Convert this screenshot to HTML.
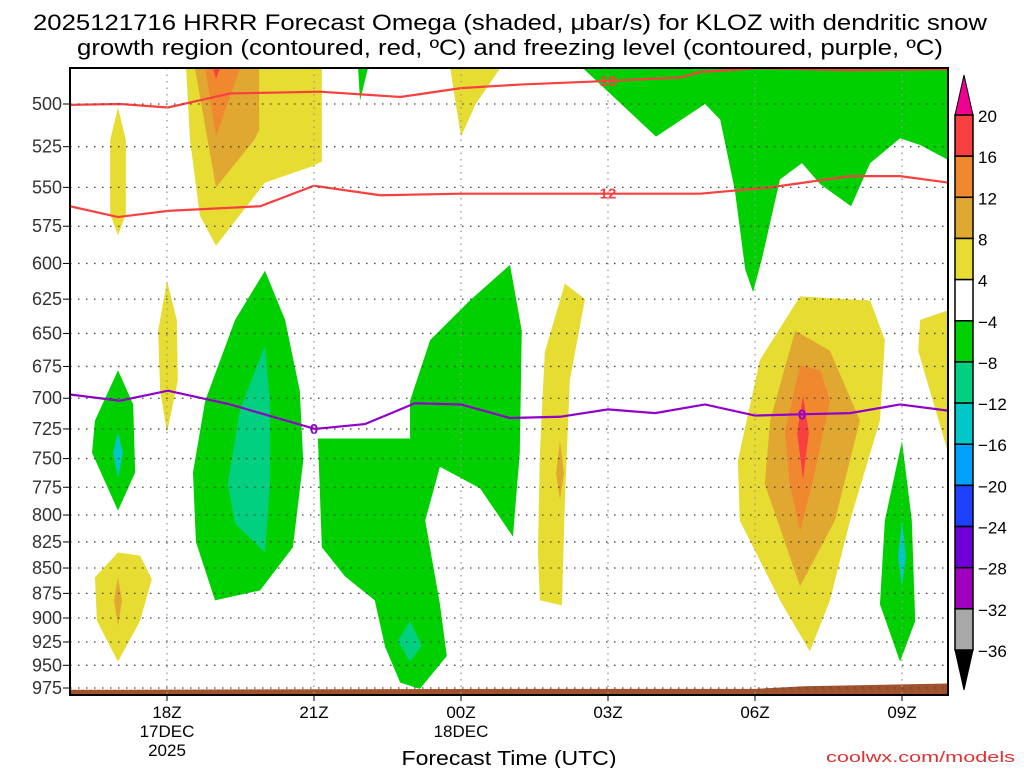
<!DOCTYPE html>
<html><head><meta charset="utf-8"><style>
body{margin:0;background:#fff;width:1024px;height:768px;overflow:hidden}
svg text{font-family:"Liberation Sans",sans-serif}
</style></head><body>
<svg id="c" width="1024" height="768">
<text x="510" y="30" font-size="22" text-anchor="middle" textLength="954" lengthAdjust="spacingAndGlyphs">2025121716 HRRR Forecast Omega (shaded, μbar/s) for KLOZ with dendritic snow</text>
<text x="510" y="55" font-size="22" text-anchor="middle" textLength="866" lengthAdjust="spacingAndGlyphs">growth region (contoured, red, ºC) and freezing level (contoured, purple, ºC)</text>
<g id="plot"></g>
<text x="509" y="765" font-size="20" text-anchor="middle" textLength="215" lengthAdjust="spacingAndGlyphs">Forecast Time (UTC)</text>
<text x="1015" y="762" font-size="15" fill="#e03030" text-anchor="end" textLength="189" lengthAdjust="spacingAndGlyphs">coolwx.com/models</text>
</svg>
<script>
const pTicks=[500,525,550,575,600,625,650,675,700,725,750,775,800,825,850,875,900,925,950,975];
const tTicks=[18,21,24,27,30,33];
const tLabels=["18Z","21Z","00Z","03Z","06Z","09Z"];
const tSub=["17DEC","","18DEC","","",""];
const cbLevels=[20,16,12,8,4,-4,-8,-12,-16,-20,-24,-28,-32,-36];
const cbColors=["#f84040","#f08830","#e0a830","#e6dc32","#ffffff","#00d000","#00d080","#00c8c8","#00a0ff","#2040ff","#7000d8","#a000c0","#a8a8a8"];
const shapes=[
 ["#e6dc32",[[18.39,480],[18.47,521],[18.67,568],[19.0,588],[20.0,547],[20.96,537],[21.16,534],[21.16,480]]],
 ["#e0a830",[[18.57,480],[19.0,550],[19.78,521],[19.88,515],[19.88,480]]],
 ["#f08830",[[18.78,480],[19.0,519],[19.49,480]]],
 ["#f84040",[[18.94,480],[19.0,486],[19.08,480]]],
 ["#e6dc32",[[17.0,502],[16.84,521],[16.84,567],[17.0,581],[17.16,567],[17.16,521]]],
 ["#00d000",[[21.9,480],[21.94,498],[22.1,480]]],
 ["#e6dc32",[[23.78,480],[24.0,519],[24.3,500],[24.8,480]]],
 ["#00d000",[[26.49,480],[27.98,519],[28.98,500],[29.29,509],[29.59,552],[29.8,604],[29.96,620],[30.14,597],[30.51,545],[30.96,535],[31.33,548],[31.96,562],[32.35,535],[32.96,520],[33.37,524],[33.94,533],[33.94,480]]],
 ["#e6dc32",[[18.0,612],[17.82,648],[17.86,694],[18.0,728],[18.22,686],[18.2,640]]],
 ["#00d000",[[17.0,678],[16.53,718],[16.47,745],[17.0,796],[17.35,762],[17.31,705]]],
 ["#00c8c8",[[17.0,728],[16.9,745],[17.0,767],[17.1,745]]],
 ["#00d000",[[20.0,605],[19.39,640],[18.78,702],[18.53,762],[18.59,825],[18.98,882],[19.9,872],[20.57,830],[20.78,752],[20.71,694],[20.41,640]]],
 ["#00d080",[[20.0,659],[19.49,709],[19.24,772],[19.39,808],[20.0,835],[20.1,772],[20.1,702]]],
 ["#00d000",[[25.06,820],[24.39,776],[23.57,757],[23.27,805],[23.57,886],[23.71,940],[23.16,976],[22.76,969],[22.45,930],[22.24,882],[21.63,858],[21.16,830],[21.08,733],[22.96,733],[22.96,702],[23.37,655],[24.18,626],[25.0,601],[25.24,648],[25.2,745]]],
 ["#00d080",[[22.96,903],[22.71,924],[22.96,946],[23.2,929]]],
 ["#e6dc32",[[26.12,614],[25.71,664],[25.61,745],[25.57,835],[25.61,882],[26.06,887],[26.12,787],[26.22,686],[26.53,625]]],
 ["#e0a830",[[26.02,735],[25.94,763],[26.02,786],[26.1,763]]],
 ["#e6dc32",[[30.92,623],[30.1,670],[29.65,752],[29.69,805],[30.51,882],[31.12,935],[31.53,882],[31.94,805],[32.55,718],[32.65,655],[32.35,626]]],
 ["#e0a830",[[30.82,648],[30.31,718],[30.2,772],[30.92,868],[31.63,805],[32.14,718],[31.53,663]]],
 ["#f08830",[[30.92,674],[30.61,728],[30.71,772],[30.92,815],[31.22,762],[31.53,702],[31.33,678]]],
 ["#f84040",[[30.98,698],[30.86,728],[30.98,768],[31.1,728]]],
 ["#00d000",[[33.0,735],[32.65,805],[32.55,886],[32.96,946],[33.27,903],[33.2,805]]],
 ["#00c8c8",[[33.0,805],[32.92,839],[33.0,868],[33.08,839]]],
 ["#e6dc32",[[33.94,633],[33.37,640],[33.33,663],[33.94,745]]],
 ["#e6dc32",[[17.0,835],[16.53,859],[16.57,903],[17.0,946],[17.45,903],[17.69,861],[17.45,838]]],
 ["#e0a830",[[17.0,859],[16.92,882],[17.0,908],[17.08,882]]],
 ["#a0522d",[[16,977],[25,976],[30,976],[31,973],[33.94,970],[33.94,990],[16,990]]]
];
const red18T=[16.02,17.04,18.02,19.29,21.12,22.76,24,25.2,27,28.49,28.88,30.1,31.94,33.94];
const red18P=[500.5,500,502,494,493,496,491,489,487,485,482,480,481,480.5];
const red12T=[16.02,17.0,18.02,19.9,21.0,22.35,24,27,28.88,30.31,31.94,32.96,33.94];
const red12P=[562,569,565,562,549,555,554,554,554,550,543,543,547];
const frzT=[16.02,17.04,18.02,19.29,21.02,22.04,23.06,24,25,26.02,27,27.96,28.98,30,30.92,31.94,32.96,33.94];
const frzP=[697,702,694,705,725,721,704,705,716,715,709,712,705,714,713,712,705,710];
const L=70,R=948,T=68,B=695;
const xs=t=>167+(t-18)*49;
const ys=p=>104+874.5*Math.log(p/500);
const NS="http://www.w3.org/2000/svg";
const g=document.getElementById('plot');
function mk(tag,attrs,parent){const e=document.createElementNS(NS,tag);for(const k in attrs)e.setAttribute(k,attrs[k]);(parent||g).appendChild(e);return e;}
const defs=mk('defs',{});const cp=mk('clipPath',{id:'clip'},defs);mk('rect',{x:L,y:T,width:R-L,height:B-T},cp);
const area=mk('g',{'clip-path':'url(#clip)'});


shapes.forEach((s,i)=>{const e=mk('polygon',{points:s[1].map(q=>xs(q[0])+','+ys(q[1])).join(' '),fill:s[0]},area);

});
pTicks.forEach(p=>{const y=ys(p);
const l=mk('line',{x1:L,x2:R,y1:y,y2:y,stroke:'#444','stroke-dasharray':'1.5 6.5','stroke-width':1.3});


const tk=mk('line',{x1:L-7,x2:L,y1:y,y2:y,stroke:'#000'});


const t=mk('text',{x:L-8,y:y+6,'font-size':18,'text-anchor':'end',fill:'#333'});t.textContent=p;

});
tTicks.forEach((h,i)=>{const x=xs(h);
const l=mk('line',{x1:x,x2:x,y1:T,y2:B,stroke:'#999','stroke-dasharray':'1.5 5','stroke-width':1.3});


const tk=mk('line',{x1:x,x2:x,y1:B,y2:B+6,stroke:'#000'});


const t=mk('text',{x:x,y:718,'font-size':17,'text-anchor':'middle'});t.textContent=tLabels[i];


if(tSub[i]){const s=mk('text',{x:x,y:737,'font-size':17,'text-anchor':'middle'});s.textContent=tSub[i];

}});
const yr=mk('text',{x:xs(18),y:756,'font-size':17,'text-anchor':'middle'});yr.textContent='2025';


function line(T_,P_,col,name){const e=mk('polyline',{points:T_.map((t,i)=>xs(t)+','+ys(P_[i])).join(' '),fill:'none',stroke:col,'stroke-width':2.2},area);

}
line(red18T,red18P,'#f84040','dgz-contour-minus18');
line(red12T,red12P,'#f84040','dgz-contour-minus12');
line(frzT,frzP,'#9000c8','freezing-level-contour');
function lab(t,p,txt,col,name){const x=xs(t),y=ys(p);
mk('rect',{x:x-txt.length*5-2,y:y-7,width:txt.length*10+4,height:14,fill:'#fff',opacity:0},area);
const e=mk('text',{x:x,y:y+5,'font-size':15,'font-weight':'bold','text-anchor':'middle',fill:col},area);e.textContent=txt;

}
lab(27,487,'18','#f84040','contour-label-18');
lab(27,554,'12','#f84040','contour-label-12');
lab(21,725,'0','#9000c8','contour-label-0a');
lab(30.96,713,'0','#9000c8','contour-label-0b');
const fr=mk('rect',{x:L,y:T,width:R-L,height:B-T,fill:'none',stroke:'#000','stroke-width':2});


const cx=955,cw=18,ct=115,cb=650,bh=(cb-ct)/(cbLevels.length-1);
const cbg=mk('g',{});


mk('polygon',{points:`${cx},${ct} ${cx+cw/2},75 ${cx+cw},${ct}`,fill:'#f00090',stroke:'#000'},cbg);
mk('polygon',{points:`${cx},${cb} ${cx+cw/2},690 ${cx+cw},${cb}`,fill:'#000',stroke:'#000'},cbg);
cbColors.forEach((c,i)=>{const r=mk('rect',{x:cx,y:ct+i*bh,width:cw,height:bh,fill:c,stroke:'#000','stroke-width':1.5},cbg);

});
cbLevels.forEach((v,i)=>{const t=mk('text',{x:cx+23,y:ct+i*bh+7,'font-size':17},cbg);t.textContent=v<0?'−'+(-v):v;

});
</script>
</body></html>
